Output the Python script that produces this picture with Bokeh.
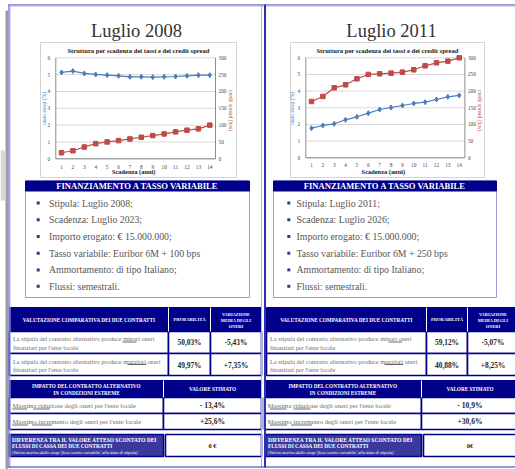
from math import pi
from bokeh.plotting import figure
from bokeh.models import Range1d
from bokeh.core.properties import value
from bokeh.embed import file_html
from bokeh.resources import INLINE

# ---------------- data ----------------
years = list(range(1, 15))
swap_2008 = [5.13, 5.21, 5.07, 5.01, 4.97, 4.93, 4.87, 4.87, 4.85, 4.87, 4.89, 4.93, 4.97, 4.97]
spread_2008 = [18, 24, 35, 45, 50, 54, 59, 64, 69, 74, 80, 85, 89, 100]
swap_2011 = [1.78, 1.94, 2.04, 2.28, 2.46, 2.68, 2.90, 3.02, 3.14, 3.26, 3.34, 3.50, 3.66, 3.74]
spread_2011 = [169, 184, 210, 219, 237, 250, 252, 254, 257, 264, 276, 285, 290, 300]
left_ticks = [0, 1, 2, 3, 4, 5, 6]
right_ticks = [0, 50, 100, 150, 200, 250, 300]

titles = ["Luglio 2008", "Luglio 2011"]
chart_title = "Struttura per scadenza dei tassi e dei credit spread"
box_header = "FINANZIAMENTO A TASSO VARIABILE"
bullets_2008 = ["Stipula: Luglio 2008;", "Scadenza: Luglio 2023;", "Importo erogato: € 15.000.000;",
                "Tasso variabile:  Euribor 6M + 100 bps", "Ammortamento: di tipo Italiano;", "Flussi: semestrali."]
bullets_2011 = ["Stipula: Luglio 2011;", "Scadenza: Luglio 2026;", "Importo erogato: € 15.000.000;",
                "Tasso variabile:  Euribor 6M + 250 bps", "Ammortamento: di tipo Italiano;", "Flussi: semestrali."]
prob_2008 = ["50,03%", "49,97%"]
var_2008 = ["-5,43%", "+7,35%"]
prob_2011 = ["59,12%", "40,88%"]
var_2011 = ["-5,07%", "+8,25%"]
extreme_2008 = ["- 13,4%", "+25,6%"]
extreme_2011 = ["- 10,9%", "+30,6%"]
diff_2008 = "0 €"
diff_2011 = "0€"

t1_head = "VALUTAZIONE COMPARATIVA DEI DUE CONTRATTI"
t1_prob = "PROBABILITÀ"
t1_var = ["VARIAZIONE", "MEDIA DEGLI", "ONERI"]
t1_rows = [["La stipula del contratto alternativo produce minori oneri", "finanziari per l'ente locale"],
           ["La stipula del contratto alternativo produce maggiori oneri", "finanziari per l'ente locale"]]
t2_head = ["IMPATTO DEL CONTRATTO ALTERNATIVO", "IN CONDIZIONI ESTREME"]
t2_val = "VALORE STIMATO"
t2_rows = ["Massima riduzione degli oneri per l'ente locale", "Massimo incremento degli oneri per l'ente locale"]
t3_lines = ["DIFFERENZA TRA IL VALORE ATTESO SCONTATO DEI", "FLUSSI DI CASSA DEI DUE CONTRATTI"]
t3_note = "(Valore teorico dello swap 'fisso contro variabile' alla data di stipula)"

SERIF = value("Liberation Serif")
NAVY = "#00008b"
MIDBLUE = "#3a3a9e"
BLUE_S = "#4a7ebb"
RED_S = "#be4b48"
GRAYTXT = "#6e6e6e"

p = figure(width=515, height=469, x_range=Range1d(0, 515), y_range=Range1d(469, 0),
           output_backend="svg", toolbar_location=None, min_border=0)
p.axis.visible = False
p.grid.visible = False
p.outline_line_color = None
p.background_fill_color = "white"
p.border_fill_color = "white"


def txt(x, y, s, size, color="#222222", align="left", style="normal", angle=0.0):
    p.text(x=[x], y=[y], text=[s], text_font=SERIF, text_font_size=f"{size}px",
           text_color=color, text_align=align, text_baseline="middle",
           text_font_style=style, angle=angle)


def panel(P):
    # title
    txt(P["cx"], 30, P["title"], 18.5, color="#333333", align="center")
    # chart box
    bx0, bx1 = P["box"]
    p.quad(left=[bx0], right=[bx1], top=[42], bottom=[177], fill_color="white",
           line_color="#d4d4d4", line_width=1)
    txt((bx0 + bx1) / 2, 50, chart_title, 6.6, color="#222222", align="center", style="bold")
    xt0, xt1 = P["xt"]
    sl = p.subplot(x_source=Range1d(0.5, 14.5), y_source=Range1d(0, 6),
                   x_target=Range1d(xt0, xt1), y_target=Range1d(P["y0"], 57.3))
    sr = p.subplot(x_source=Range1d(0.5, 14.5), y_source=Range1d(0, 300),
                   x_target=Range1d(xt0, xt1), y_target=Range1d(P["y0"], 57.3))
    # grid
    sl.segment(x0=[0.5] * 7, x1=[14.5] * 7, y0=left_ticks, y1=left_ticks,
               line_color="#d9d9d9", line_width=1)
    # axes
    sl.segment(x0=[0.5, 14.5, 0.5], x1=[0.5, 14.5, 14.5], y0=[0, 0, 0], y1=[6, 6, 0],
               line_color="#8c8c8c", line_width=1)
    sl.text(x=[0.5] * 7, y=left_ticks, text=[str(t) for t in left_ticks], x_offset=-7,
            text_font=SERIF, text_font_size="5.3px", text_color="#444444",
            text_align="center", text_baseline="middle")
    sr.text(x=[14.5] * 7, y=right_ticks, text=[str(t) for t in right_ticks], x_offset=3,
            text_font=SERIF, text_font_size="5.3px", text_color="#444444",
            text_align="left", text_baseline="middle")
    sl.text(x=years, y=[0] * 14, text=[str(v) for v in years], y_offset=P["xlo"],
            text_font=SERIF, text_font_size="5.3px", text_color="#444444",
            text_align="center", text_baseline="middle")
    # series
    sl.line(years, P["swap"], line_color=BLUE_S, line_width=1.2)
    sl.scatter(years, P["swap"], marker="diamond", size=5, fill_color=BLUE_S, line_color=BLUE_S)
    sr.line(years, P["spread"], line_color=RED_S, line_width=1.2)
    sr.scatter(years, P["spread"], marker="square", size=4.5, fill_color=RED_S, line_color=RED_S)
    # axis labels
    txt(P["ylx"], 108, "tasso swap (%)", 5.5, color=BLUE_S, align="center", angle=pi / 2)
    txt(P["yrx"], 110, "credit spread (bps)", 5.5, color=RED_S, align="center", angle=-pi / 2)
    txt((xt0 + xt1) / 2 - 2, 171, "Scadenza (anni)", 6.4, color="#222222", align="center", style="bold")

    # financing box
    f0, f1 = P["fbox"]
    p.quad(left=[f0], right=[f1], top=[180.5], bottom=[297], fill_color="white",
           line_color="#9a9ad2", line_width=1)
    p.quad(left=[f0], right=[f1], top=[180.5], bottom=[190.5], fill_color=NAVY, line_color=NAVY)
    txt((f0 + f1) / 2, 185.8, box_header, 8.6, color="white", align="center", style="bold")
    ys = [202.5, 219.2, 236, 252.7, 269.4, 285.8]
    p.scatter([P["bx"]] * 6, ys, marker="square", size=3, fill_color="#2c3e8c", line_color=None)
    for y, b in zip(ys, P["bul"]):
        txt(P["tx"], y, b, 9.8, color="#555555")

    # table 1
    a, b, c, d = P["t1x"]
    p.quad(left=[a], right=[d], top=[307], bottom=[331], fill_color=NAVY, line_color=NAVY)
    p.quad(left=[a, b, c, a, b, c], right=[b, c, d, b, c, d],
           top=[331, 331, 331, 353, 353, 353], bottom=[353, 353, 353, 375, 375, 375],
           fill_color="white", line_color=NAVY, line_width=1.6)
    p.segment(x0=[b, c], x1=[b, c], y0=[307, 307], y1=[331, 331], line_color="white", line_width=1)
    txt((a + b) / 2, 319, t1_head, 5.2, color="white", align="center", style="bold")
    txt((b + c) / 2, 319, t1_prob, 4.6, color="white", align="center", style="bold")
    for i, s in enumerate(t1_var):
        txt((c + d) / 2, 313.5 + 6 * i, s, 4.4, color="white", align="center", style="bold")
    for r, (rowy, lines) in enumerate(zip([338, 360.5], t1_rows)):
        txt(a + 3.5, rowy, lines[0], 6.3, color=GRAYTXT)
        txt(a + 3.5, rowy + 8.5, lines[1], 6.3, color=GRAYTXT)
        txt((b + c) / 2, rowy + 4, P["prob"][r], 7.4, color="#222222", align="center", style="bold")
        txt((c + d) / 2, rowy + 4, P["var"][r], 7.4, color="#222222", align="center", style="bold")
    ul = P["ul1"]
    p.segment(x0=[u[0] for u in ul], x1=[u[1] for u in ul], y0=[u[2] for u in ul], y1=[u[2] for u in ul],
              line_color="#444444", line_width=0.8)

    # table 2
    a, b, d = P["t2x"]
    p.quad(left=[a], right=[d], top=[380], bottom=[397], fill_color=NAVY, line_color=NAVY)
    p.quad(left=[a, b, a, b], right=[b, d, b, d], top=[397, 397, 413, 413], bottom=[413, 413, 429, 429],
           fill_color="white", line_color=NAVY, line_width=1.6)
    p.segment(x0=[b], x1=[b], y0=[380], y1=[397], line_color="white", line_width=1)
    txt((a + b) / 2, 385, t2_head[0], 5.2, color="white", align="center", style="bold")
    txt((a + b) / 2, 392, t2_head[1], 5.2, color="white", align="center", style="bold")
    txt((b + d) / 2, 388.5, t2_val, 5.2, color="white", align="center", style="bold")
    for r, y in enumerate([405, 421]):
        txt(a + 3, y, t2_rows[r], 6.6, color=GRAYTXT)
        txt((b + d) / 2, y, P["ext"][r], 7.6, color="#222222", align="center", style="bold")
    ul = P["ul2"]
    p.segment(x0=[u[0] for u in ul], x1=[u[1] for u in ul], y0=[u[2] for u in ul], y1=[u[2] for u in ul],
              line_color="#444444", line_width=0.8)

    # table 3
    a, b, d = P["t3x"]
    p.quad(left=[a], right=[b], top=[434], bottom=[456], fill_color=MIDBLUE, line_color=NAVY, line_width=1.6)
    p.quad(left=[b + 2], right=[d], top=[434], bottom=[456], fill_color="white", line_color=NAVY, line_width=1.6)
    txt(a + 2.5, 439.5, t3_lines[0], 5.5, color="white", style="bold")
    txt(a + 2.5, 445.8, t3_lines[1], 5.3, color="white", style="bold")
    txt(a + 2.5, 452, t3_note, 4.5, color="white", style="italic")
    txt((b + d) / 2, 445, P["diff"], 6.5, color="#222222", align="center", style="bold")


left = dict(cx=136, title=titles[0], box=(40, 236), xt=(55.3, 215), y0=158.3, xlo=8,
            ylx=43.5, yrx=230, swap=swap_2008, spread=spread_2008,
            fbox=(25, 249), bx=37.7, tx=48.5, bul=bullets_2008,
            t1x=(9, 168, 210, 261), prob=prob_2008, var=var_2008,
            ul1=[(122, 136, 341.5), (127, 146, 364)],
            t2x=(9, 163, 261), ext=extreme_2008,
            ul2=[(11.7, 26.7, 408.5), (32.7, 49.3, 408.5), (11.7, 27.7, 424.5), (31.7, 51.7, 424.5)],
            t3x=(9, 163, 261), diff=diff_2008)
right = dict(cx=391, title=titles[1], box=(290, 484), xt=(305.3, 464.4), y0=157.3, xlo=7,
             ylx=291.7, yrx=479, swap=swap_2011, spread=spread_2011,
             fbox=(273, 496), bx=288.3, tx=296, bul=bullets_2011,
             t1x=(266, 426, 467, 518), prob=prob_2011, var=var_2011,
             ul1=[(388, 401.7, 341.5), (384, 402.7, 364)],
             t2x=(264, 421, 518), ext=extreme_2011,
             ul2=[(269.3, 286, 408.5), (293, 310, 408.5), (269.3, 286.7, 424.5), (290.7, 311.7, 424.5)],
             t3x=(265, 421, 518), diff=diff_2011)

panel(left)
panel(right)

# slide edge and frame lines
p.quad(left=[5], right=[7.5], top=[10], bottom=[469], fill_color="#9c9c9c", line_color=None)
p.quad(left=[0], right=[5], top=[150], bottom=[200], fill_color="#d6d6d6", line_color=None)
p.segment(x0=[8.5, 9.5, 261], x1=[8.5, 9.5, 261], y0=[4, 5, 4], y1=[467, 467, 467],
          line_color=["#3333c0", "#b8b8ea", "#b0b0d8"], line_width=1)
p.segment(x0=[8, 8, 8], x1=[515, 515, 515], y0=[4.5, 5.5, 466.5], y1=[4.5, 5.5, 466.5],
          line_color=["#3333c0", "#b8b8ea", "#3333c0"], line_width=1)
p.segment(x0=[264.5], x1=[264.5], y0=[4], y1=[467], line_color="#2f2fb0", line_width=2)

open("out.html", "w").write(file_html(p, INLINE))
